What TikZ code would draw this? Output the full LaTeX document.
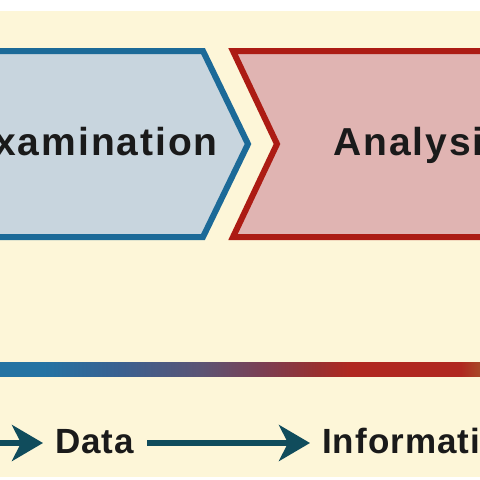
\documentclass[tikz,border=0pt]{standalone}
\usepackage{fontspec}
\setmainfont{Liberation Sans}
\newfontfamily\bigfam[LetterSpace=5]{Liberation Sans}
\newfontfamily\smallfam[LetterSpace=3]{Liberation Sans}
\usetikzlibrary{arrows.meta}
\definecolor{cream}{RGB}{253,246,216}
\definecolor{bluebd}{RGB}{28,106,152}
\definecolor{bluefill}{RGB}{200,213,222}
\definecolor{redbd}{RGB}{172,28,20}
\definecolor{redfill}{RGB}{224,180,178}
\definecolor{arrcol}{RGB}{16,76,92}
\definecolor{txt}{RGB}{26,26,26}
\definecolor{g1}{RGB}{36,115,163}
\definecolor{g2}{RGB}{58,96,144}
\definecolor{g3}{RGB}{92,84,116}
\definecolor{g4}{RGB}{124,62,82}
\definecolor{g5}{RGB}{152,48,48}
\definecolor{g6}{RGB}{176,40,32}
\definecolor{g7}{RGB}{168,72,40}
\pgfdeclarehorizontalshading{barshade}{100bp}{color(0bp)=(g1); color(25bp)=(g1); color(29.5bp)=(g1); color(37.5bp)=(g2); color(46bp)=(g3); color(52.5bp)=(g4); color(58bp)=(g5); color(61.5bp)=(g6); color(73bp)=(g6); color(75bp)=(g7); color(100bp)=(g7)}
\tikzset{
  stage/.style={line width=6pt, line join=miter},
  bigtxt/.style={font=\bigfam\bfseries\fontsize{39}{39}\selectfont, text=txt, inner sep=0pt},
  smalltxt/.style={font=\smallfam\bfseries\fontsize{35}{35}\selectfont, text=txt, inner sep=0pt},
  arr/.style={draw=arrcol, line width=6pt, -{Stealth[length=31pt, width=36pt, inset=9pt]}}
}
\begin{document}
\begin{tikzpicture}[x=1pt,y=-1pt]
\useasboundingbox (0,0) rectangle (480,480);
\clip (0,0) rectangle (480,480);
\fill[white] (0,0) rectangle (480,480);
\fill[cream] (0,11) rectangle (480,477);
% stages
\draw[stage, draw=bluebd, fill=bluefill] (-20,51) -- (203,51) -- (248,144) -- (203,237) -- (-20,237) -- cycle;
\draw[stage, draw=redbd, fill=redfill] (233,51) -- (500,51) -- (500,237) -- (233,237) -- (277,144) -- cycle;
\node[bigtxt, anchor=base east] (exam) at (218,155) {Examination};
\node[bigtxt, anchor=base west] (anal) at (333,155) {Analysis};
% gradient bar
\shade[shading=barshade] (0,362) rectangle (480,376);
% bottom row
\node[smalltxt, anchor=base west] (data) at (55,453) {Data};
\node[smalltxt, anchor=base west] (info) at (322,453) {Information};
\coordinate (s1) at (-10,443);
\draw[arr] (s1) -- ([xshift=-12pt]data.west |- s1);
\draw[arr] ([xshift=13pt]data.east |- s1) -- ([xshift=-12pt]info.west |- s1);
\end{tikzpicture}
\end{document}
